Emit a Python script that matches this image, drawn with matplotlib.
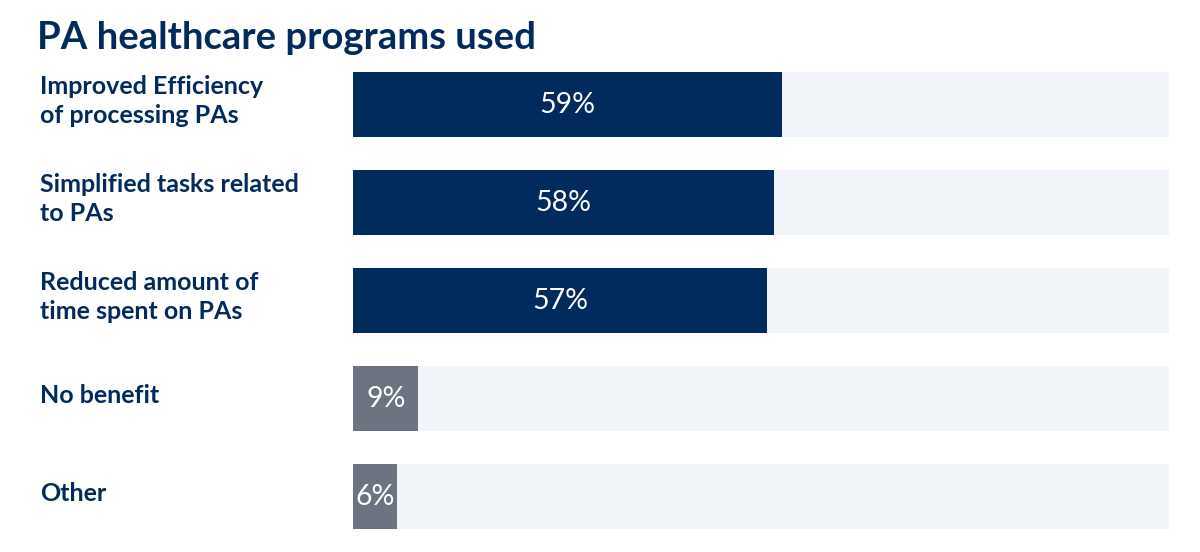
import matplotlib
matplotlib.use("Agg")
import matplotlib.pyplot as plt
import matplotlib.transforms as mtransforms

plt.rcParams['font.family'] = ['Lato', 'DejaVu Sans']

title = "PA healthcare programs used"
categories = ["Improved Efficiency\nof processing PAs",
              "Simplified tasks related\nto PAs",
              "Reduced amount of\ntime spent on PAs",
              "No benefit",
              "Other"]
values = [59, 58, 57, 9, 6]
value_labels = ["59%", "58%", "57%", "9%", "6%"]
track_max = 112.3

navy = "#012b5c"
gray = "#6b7480"
track = "#f1f4f8"
colors = [navy, navy, navy, gray, gray]

W, H = 1200, 552
fig = plt.figure(figsize=(12, 5.52), dpi=100)
# axes placed in pixel terms: x 353..1169, y 72..529
ax = fig.add_axes([353 / W, 1 - 529 / H, (1169 - 353) / W, (529 - 72) / H])

bar_h = 65 / 98
ypos = list(range(len(categories)))
ax.barh(ypos, [track_max] * len(ypos), height=bar_h, color=track, left=0)
ax.barh(ypos, values, height=bar_h, color=colors)

ax.set_xlim(0, track_max)
ax.set_ylim(len(ypos) - 1 + bar_h / 2, -bar_h / 2)
ax.axis("off")

for y, v, lab in zip(ypos, values, value_labels):
    ax.text(v / 2, y + 0.01, lab, ha="center", va="center", color="white",
            fontsize=20.5)

trans = mtransforms.blended_transform_factory(ax.transAxes, ax.transData)
for y, cat in zip(ypos, categories):
    ax.text((40 - 353) / 816, y - 0.035, cat, transform=trans,
            ha="left", va="center", color=navy, fontsize=18, fontweight="bold",
            linespacing=1.35)

fig.text(37 / W, 1 - 21 / H, title, ha="left", va="top", color=navy,
         fontsize=27.5, fontweight="bold")

fig.savefig("out.png", dpi=100, facecolor="white")
